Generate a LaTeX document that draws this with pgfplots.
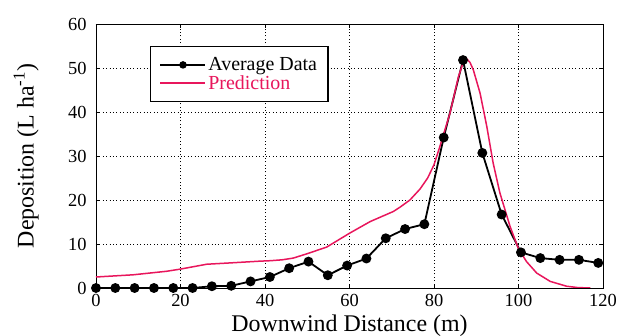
\documentclass[border=0pt]{standalone}
\usepackage{fontspec}
\setmainfont{Liberation Serif}
\usepackage{pgfplots}
\pgfplotsset{compat=1.18}
\definecolor{pred}{RGB}{232,22,92}
\begin{document}
\begin{tikzpicture}
\path[use as bounding box] (-96bp,-48bp) rectangle (522bp,288bp);
\begin{axis}[
  at={(0,0)}, anchor=south west,
  scale only axis, width=507bp, height=264bp,
  xmin=0, xmax=120, ymin=0, ymax=60,
  xtick={0,20,...,120}, ytick={0,10,...,60},
  grid=major,
  grid style={black, line width=0.9bp, dash pattern=on 1bp off 2.4bp},
  axis line style={black, line width=0.9bp},
  tick style={black, line width=0.8bp},
  major tick length=4bp, tick align=inside,
  /pgf/number format/assume math mode=true,
  tick label style={font=\fontsize{18.5}{20}\selectfont},
  xticklabel style={yshift=-3bp},
  yticklabel style={xshift=-6bp},
  xlabel={Downwind Distance (m)},
  ylabel={Deposition (L ha\textsuperscript{-1})},
  xlabel style={font=\fontsize{24}{26}\selectfont, at={(rel axis cs:0.5,0)}, anchor=base, yshift=-43bp},
  ylabel style={font=\fontsize{24}{26}\selectfont, at={(rel axis cs:-0.138,0.5)}, anchor=center},
  legend style={at={(rel axis cs:0.1065,0.9167)}, anchor=north west, draw=black, line width=1.2bp,
    fill=white, font=\fontsize{20}{21}\selectfont, inner xsep=9bp, inner ysep=9bp, row sep=-1bp},
  legend cell align=left,
  legend image code/.code={\draw[mark repeat=2,mark phase=2,#1,mark size=2.8bp] plot coordinates {(0bp,0bp) (22.5bp,0bp) (45bp,0bp)};},
]
\addplot[black, line width=1.8bp, mark=*, mark size=4bp, mark options={solid, fill=black}] coordinates {
(0,0) (4.57,0) (9.14,0) (13.72,0) (18.29,0) (22.86,0) (27.43,0.4) (32.00,0.5)
(36.58,1.5) (41.15,2.5) (45.72,4.5) (50.29,6.0) (54.86,2.9) (59.44,5.1) (64.01,6.7)
(68.58,11.3) (73.15,13.4) (77.72,14.5) (82.30,34.2) (86.87,51.8) (91.44,30.7)
(96.01,16.7) (100.58,8.1) (105.16,6.8) (109.73,6.4) (114.30,6.4) (118.87,5.7)
};
\addlegendentry{Average Data}
\addplot[pred, line width=1.5bp, no marks] coordinates {
(0,2.5) (8.8,3.0) (16.7,3.8) (20,4.3) (26.2,5.4) (31.7,5.7) (38.8,6.1) (41.2,6.2)
(44,6.4) (46.7,6.8) (50,7.8) (54.6,9.3) (60.1,12.5) (64.9,15.1) (70.4,17.4) (72,18.4)
(74.3,20.0) (76.7,22.5) (78.5,25.0) (80,28.0) (81.4,32.2) (83.8,39.8) (85.8,48.1)
(87.0,51.5) (87.7,52.1) (88.5,51.3) (89.3,49.6) (90.9,44.3) (92.5,36.7) (94,28.4)
(95.6,21.6) (98,14.0) (100,8.9) (101.9,6.0) (104.3,3.4) (107.5,1.5) (111.4,0.4)
(114,0.1) (117,0.0)
};
\addlegendentry{\textcolor{pred}{Prediction}}
\end{axis}
\end{tikzpicture}
\end{document}
